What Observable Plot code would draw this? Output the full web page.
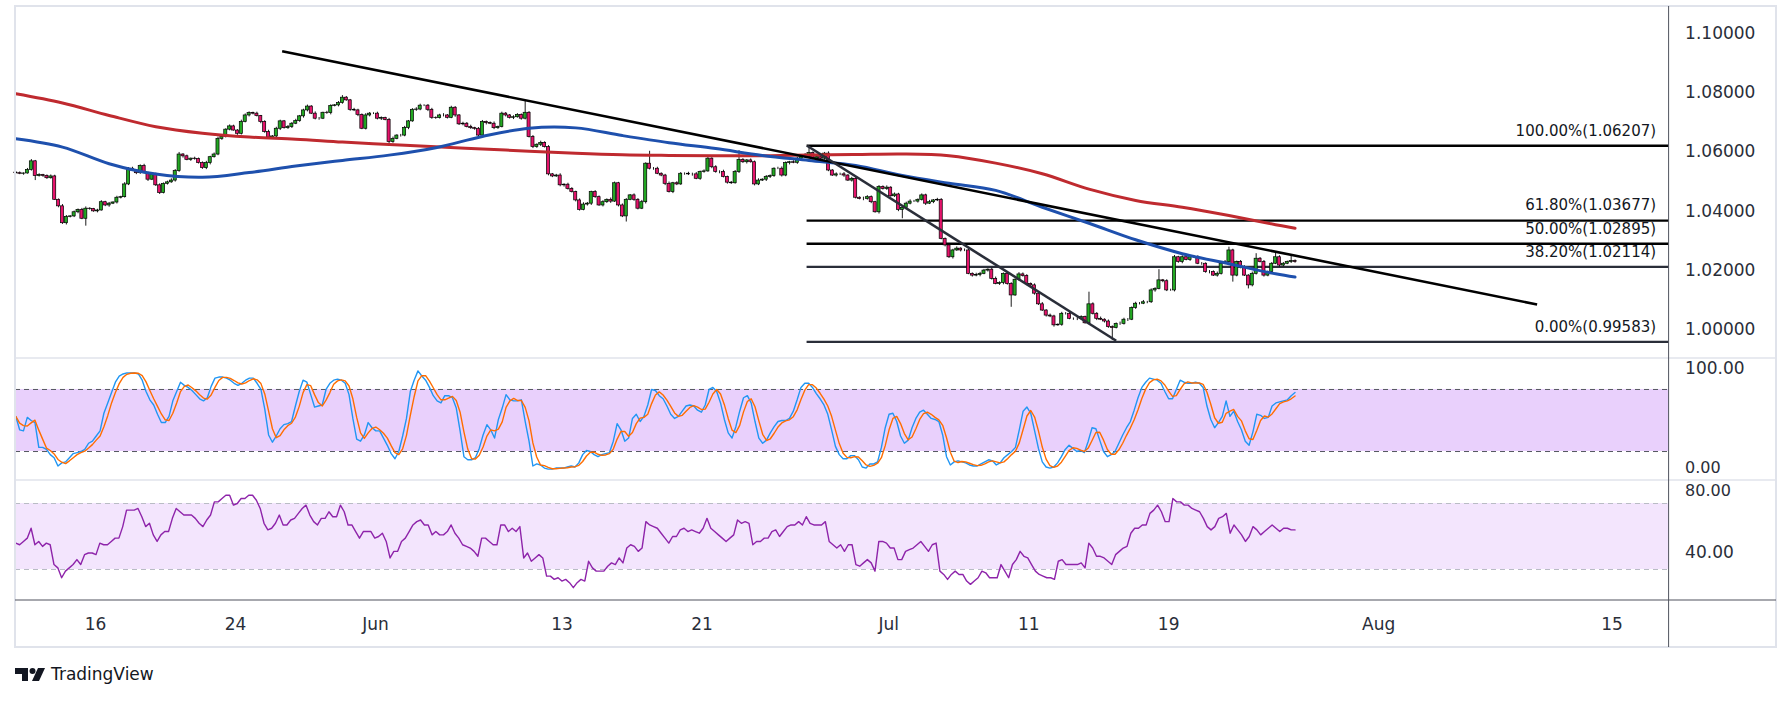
<!DOCTYPE html>
<html><head><meta charset="utf-8">
<script src="https://cdn.jsdelivr.net/npm/d3@7"></script>
<script src="https://cdn.jsdelivr.net/npm/@observablehq/plot@0.6"></script>
<style>
html,body{margin:0;padding:0;background:#fff;}
#wrap{position:relative;width:1791px;height:701px;overflow:hidden;background:#fff;font-family:"DejaVu Sans",sans-serif;}
.pane{position:absolute;left:0;}
#frame{position:absolute;left:0;top:0;pointer-events:none;}
#logo{position:absolute;left:15px;top:664px;display:flex;align-items:center;gap:6px;color:#131722;font:17px "DejaVu Sans",sans-serif;}
</style></head><body>
<div id="wrap">
<div id="price" class="pane" style="top:6px"></div>
<div id="stoch" class="pane" style="top:358px"></div>
<div id="rsi" class="pane" style="top:480px"></div>
<svg id="frame" width="1791" height="701">
<rect x="15" y="6" width="1761" height="641" fill="none" stroke="#e0e3eb" stroke-width="2"/>
<line x1="15" x2="1776" y1="358" y2="358" stroke="#e0e3eb" stroke-width="1.5"/>
<line x1="15" x2="1776" y1="480" y2="480" stroke="#e0e3eb" stroke-width="1.5"/>
<line x1="15" x2="1776" y1="600" y2="600" stroke="#50535e" stroke-width="1.2"/>
<line x1="1668.6" x2="1668.6" y1="6" y2="647" stroke="#50535e" stroke-width="1"/>
</svg>
<div id="logo"><svg width="30" height="15" viewBox="0 0 30 15"><path d="M0 1h13v13h-6v-7H0z" fill="#131722"/><circle cx="17.5" cy="4" r="3" fill="#131722"/><path d="M23 1h7l-6 13h-7z" fill="#131722"/></svg><span>TradingView</span></div>
</div>
<script>
// ---------------- DATA ----------------
const firstBarTime = "2022-05-10T14:00";
const firstOpenPips = 10530;
// 4H closes in pips (1/10000)
const closesA = [10528,10526,10527,10539,10568,10518,10522,10519,10511,10517,
10438,10416,10359,10380,10382,10396,10404,10374,10408,10407,
10399,10402,10430,10419,10425,10429,10445,10447,10490,10543,
10537,10528,10552,10528,10506,10524,10487,10461,10492,10497,
10503,10535,10591,10585,10573,10577,10576,10562,10545,10562,
10582,10591,10644,10650,10675,10686,10672,10661,10701,10723,
10731,10729,10721,10701,10667,10648,10652,10678,10703,10680,
10684,10695,10704,10720,10740,10753,10729,10712,10712,10732,
10731,10755,10757,10765,10783,10774,10742,10740,10725,10678,
10723,10729,10729,10712,10714,10708,10633,10644,10655,10655,
10681,10703,10742,10743,10756,10756,10742,10715,10714,10723,
10723,10715,10749,10723,10693,10695,10684,10680,10678,10655,
10701,10697,10695,10680,10684,10729,10723,10715,10717,10725,
10712,10732,10650,10616,10624,10630,10616,10524,10517,10520,
10487,10489,10475,10464,10436,10404,10422,10425,10464,10447,
10419];
const closesB = [10430,10438,10432,10494,10419,10382,10438,10453,10438,10408,
10430,10560,10543,10543,10526,10520,10492,10464,10494,10490,
10526,10526,10524,10524,10509,10532,10534,10577,10548,10532,
10532,10515,10496,10494,10532,10573,10565,10571,10565,10490,
10503,10506,10515,10518,10543,10543,10520,10562,10565,10563,
10577,10588,10582,10596,10577,10582,10577,10594,10537,10520,
10524,10524,10520,10503,10509,10445,10441,10441,10447,10430,
10396,10481,10475,10479,10450,10456,10404,10411,10425,10432,
10432,10438,10453,10425,10430,10436,10438,10306,10284,10244,
10267,10273,10267,10267,10188,10182,10184,10188,10199,10202,
10171,10154,10157,10188,10154,10115,10168,10186,10181,10154,
10149,10121,10085,10064,10047,10044,10014,10016,10053,10053,
10036,10036,10036,10042,10021,10085,10053,10036,10033,10027,
10008,10005,10019,10019,10033,10033,10073,10087,10087,10092,
10092,10132,10137,10166,10163,10132,10132,10244,10228,10244,
10235,10244,10244];
const closesC = [10222,10222,10194,10194,10182,10188,10222,10228,10267,10182,
10228,10211,10182,10149,10188,10239,10228,10182,10194,10222,
10244,10216,10222,10228,10231,10228];
// wick lengths in pips above / below the body
const wickUp = [3,4,2,5,6,3,4,2,3,5,4,3,6,5,2,4,3,5,6,3,2,4,5,3,4,2,5,3,6,4,
5,3,4,6,3,2,4,5,3,4,6,5,7,3,4,2,5,3,4,6,3,5,6,4,3,5,4,3,6,5,
4,3,5,2,4,6,3,5,4,3,5,4,6,3,4,5,3,6,4,2,5,4,3,5,7,4,3,5,4,3,
6,4,3,5,4,3,5,6,3,4,5,3,4,6,5,3,4,5,3,4,6,3,5,4,3,5,4,6,3,4,
5,3,4,6,3,5,4,3,5,4,3,42,4,5,3,6,4,5,3,4,6,3,5,4,3,5,6,4,3,5,
4,5,3,6,4,3,5,4,3,5,4,6,3,42,4,5,3,4,6,3,5,4,3,5,4,6,3,5,4,3,
5,4,6,3,4,5,31,4,3,5,4,6,3,5,4,3,5,6,4,3,5,4,3,6,24,4,5,3,4,6,
3,5,4,6,3,5,4,3,6,5,4,3,5,4,6,3,5,4,3,5,6,4,3,5,4,6,3,5,4,3,
5,4,6,3,5,4,3,6,5,4,3,5,6,4,3,5,4,3,6,5,4,3,5,4,6,3,5,4,3,5,
4,6,3,5,4,3,41,5,4,6,3,5,4,3,6,5,4,3,5,4,6,3,5,4,36,3,5,4,6,3,
5,4,3,6,5,4,3,5,4,6,3,5,11,4,3,5,4,3,6,17,4,5,3,4,14,5,4,3,19,4];
const wickDn = [4,3,5,2,4,15,3,5,4,3,2,5,4,6,3,4,5,3,25,4,3,5,2,4,6,3,5,4,3,4,
3,5,4,2,6,3,4,5,3,4,3,5,4,6,3,5,4,3,4,5,6,3,4,5,3,4,2,5,4,3,
5,4,3,6,4,5,3,4,6,3,4,5,3,4,6,5,3,4,5,3,4,6,3,5,4,3,5,4,6,3,
4,5,3,4,6,3,5,4,3,5,4,6,3,5,4,3,6,5,4,3,5,4,3,6,4,5,3,4,5,3,
4,6,3,5,4,3,5,4,6,3,5,4,3,5,4,6,3,5,4,3,5,6,4,3,5,4,3,5,6,4,
3,5,4,6,3,5,4,19,3,5,4,3,6,4,5,3,4,6,3,5,4,3,5,4,6,3,5,4,3,5,
4,6,3,5,4,3,5,4,6,3,5,4,3,6,5,4,3,5,4,6,3,5,4,3,5,4,6,3,5,4,
3,5,4,6,3,5,4,3,6,4,5,3,6,4,5,3,4,6,30,5,4,3,5,4,6,3,5,4,3,5,
4,6,3,5,4,3,5,4,6,3,5,4,3,5,6,4,40,3,5,4,6,3,5,4,3,5,4,6,3,5,
4,3,5,6,4,3,5,4,6,3,5,4,42,3,5,4,6,3,5,4,3,5,4,6,3,5,4,3,5,4,
6,3,5,4,3,5,4,6,3,5,4,3,5,22,4,6,3,12,5,4,3,5,4,6,3,5,4,3,5,4];

// moving averages (pips), sampled at bar numbers
const maBars = [0,12,24,36,48,60,72,84,96,108,120,132,144,156,168,180,192,204,216,228,240,252,264,276,288,300,312,324,329];
const maRed = [10796,10765,10723,10685,10663,10650,10643,10633,10625,10617,10610,10602,10595,10590,10588,10587,10587,10589,10591,10593,10587,10562,10526,10474,10436,10413,10385,10354,10342];
const maBlue = [10644,10616,10560,10525,10514,10530,10552,10571,10589,10614,10652,10680,10681,10655,10631,10611,10588,10571,10554,10520,10494,10470,10413,10359,10303,10256,10222,10188,10177];

// Fibonacci retracement
const fibPct = [100, 61.8, 50, 38.2, 0];
const fibPrice = [1.06207, 1.03677, 1.02895, 1.02114, 0.99583];
const fibStartTime = "2022-06-27T12:00";

// trend lines
const trendStart = ["2022-05-26T00:00", "2022-06-27T12:00"];
const trendStartPrice = [1.0940, 1.06207];
const trendEnd = ["2022-08-09T19:00", "2022-07-14T18:00"];
const trendEndPrice = [1.00845, 0.9962];

// Stochastic %K
const stochK = [54,41,40,53,50,48,24,24,22,17,14,6,9,10,14,18,19,20,22,28,
30,35,40,57,67,77,87,93,95,96,96,96,95,89,78,70,65,56,48,48,
54,69,78,87,84,82,79,75,71,69,72,83,91,92,92,91,89,86,84,86,
89,91,91,86,80,61,36,29,35,42,46,47,49,64,78,89,87,75,63,64,
65,80,86,89,90,89,86,75,52,32,30,36,48,43,40,40,33,26,18,13,
20,35,52,78,89,98,93,89,82,74,69,67,74,74,72,62,40,15,12,12,
14,23,36,46,41,33,51,62,75,70,69,69,70,49,30,6,8,7,4,3,
3,4,4,4,5,6,5,9,17,21,20,17,15,
17,18,19,30,47,41,30,33,52,56,49,54,65,80,79,74,71,64,56,52,
54,59,64,65,64,60,58,65,80,82,78,67,51,38,33,44,59,72,74,67,
49,33,28,31,38,44,49,50,50,52,59,70,82,86,86,82,76,71,65,56,
41,25,17,13,13,16,16,12,5,4,8,8,10,24,43,56,57,49,35,28,
31,43,52,58,60,56,52,51,49,36,15,7,10,11,10,9,7,6,6,8,
10,12,11,7,9,14,17,20,24,41,59,63,57,40,23,10,5,4,5,9,
15,22,26,23,20,21,19,30,43,42,31,20,15,17,20,28,36,43,49,60,
72,82,87,91,90,89,86,78,71,71,80,89,87,86,86,87,
86,82,64,51,43,48,54,69,54,59,49,41,30,26,39,56,55,52,53,64,67,68,69,70,74,77];
const stochBand = [20, 80];
const stochTicks = [0, 100];

// RSI
const rsi = [46,45,47,49,55,45,47,44,46,45,33,31,25,29,31,33,36,33,39,40,
40,39,46,45,45,47,49,49,56,66,66,66,67,62,56,58,51,47,51,53,
53,61,67,65,63,63,63,61,58,56,60,63,71,71,73,75,75,69,70,73,
73,75,75,72,67,58,54,55,58,63,57,57,60,61,64,67,69,63,59,57,
61,61,65,62,62,69,65,57,57,53,49,53,53,53,49,50,52,47,37,41,
41,47,49,53,57,59,60,57,57,51,53,51,51,53,57,52,49,45,44,43,
41,38,49,49,47,45,45,57,57,53,55,53,56,37,40,35,37,39,37,26,
26,24,25,23,24,22,19,22,24,23,35,31,29,29,
29,32,34,33,37,34,43,45,44,41,43,59,57,56,55,52,49,46,50,50,
54,55,53,54,53,52,55,61,55,53,51,49,47,49,51,60,58,59,58,45,
47,47,49,49,53,54,50,53,56,57,57,59,57,62,58,57,57,57,59,47,
45,43,45,41,45,45,33,32,34,36,34,29,47,47,46,43,43,36,36,41,
42,43,45,47,44,41,45,46,29,27,24,27,29,27,27,23,21,23,25,29,
28,25,25,25,33,29,25,33,36,41,38,37,33,29,27,26,25,25,24,35,
36,33,33,33,33,34,31,46,43,38,38,37,35,33,39,41,43,44,52,55,
55,57,57,64,66,69,65,59,59,73,71,71,69,69,67,66,
65,61,56,54,56,61,62,64,52,57,54,51,47,50,56,54,51,53,55,57,55,53,55,55,54,54];
const rsiBand = [30, 70];
const rsiTicks = [40, 80];

// axis labels
const priceTicks = [1.00, 1.02, 1.04, 1.06, 1.08, 1.10];
const dateTickTimes = ["2022-05-16T00:00","2022-05-24T00:00","2022-06-01T00:00","2022-06-13T00:00","2022-06-21T00:00","2022-07-01T00:00","2022-07-11T00:00","2022-07-19T00:00","2022-08-01T00:00","2022-08-15T00:00"];
const dateTickLabels = ["16","24","Jun","13","21","Jul","11","19","Aug","15"];

// ---------------- BUILD ----------------
const BASE = Date.UTC(2022, 4, 16); // Monday
function tradingDay(s) {
  const d = new Date(s + "Z");
  const day0 = Date.UTC(d.getUTCFullYear(), d.getUTCMonth(), d.getUTCDate());
  const frac = (d.getTime() - day0) / 864e5;
  const cal = Math.round((day0 - BASE) / 864e5);
  const w = Math.floor(cal / 7), r = cal - 7 * w;
  return 5 * w + Math.min(r, 5) + frac;
}
const t0 = tradingDay(firstBarTime);
const closes = [...closesA, ...closesB, ...closesC].map(p => p / 10000);
const candles = closes.map((c, i) => {
  const o = i ? closes[i - 1] : firstOpenPips / 10000;
  return {t: t0 + i / 6, open: o, close: c,
    high: Math.max(o, c) + wickUp[i] / 10000, low: Math.min(o, c) - wickDn[i] / 10000};
});
const lastT = t0 + (closes.length - 1) / 6;
const spread = arr => arr.map((v, i) => ({t: t0 + i * (lastT - t0) / (arr.length - 1), v}));
const redPts = maBars.map((b, i) => ({t: t0 + b / 6, v: maRed[i] / 10000}));
const bluePts = maBars.map((b, i) => ({t: t0 + b / 6, v: maBlue[i] / 10000}));
const kPts = spread(stochK);
const stochD = stochK.map((v, i) => d3.mean(stochK.slice(Math.max(0, i - 2), i + 1)));
const dPts = spread(stochD);
const rsiPts = spread(rsi);
const fibs = fibPct.map((p, i) => ({pct: p, price: fibPrice[i]}));
const fibStart = tradingDay(fibStartTime);
const trends = trendStart.map((s, i) => ({t1: tradingDay(s), p1: trendStartPrice[i], t2: tradingDay(trendEnd[i]), p2: trendEndPrice[i]}));
const dateTicks = dateTickTimes.map(tradingDay);
const labelOf = new Map(dateTicks.map((t, i) => [t, dateTickLabels[i]]));

const W = 1791;
const xDomain = [-3.43, 67.45];
const common = {width: W, marginLeft: 15, marginRight: 122.4, marginTop: 0,
  style: {fontFamily: "DejaVu Sans, sans-serif", fontSize: "17px", color: "#2a2e39", background: "transparent", overflow: "visible"}};
const axisOpts = {anchor: "right", tickSize: 0, tickPadding: 16, label: null, fill: "#2a2e39", fontSize: 17};

const pricePlot = Plot.plot({
  ...common, height: 352, marginBottom: 0,
  x: {type: "linear", domain: xDomain, axis: null},
  y: {domain: [0.9902, 1.1091]},
  marks: [
    Plot.ruleY(fibs, {y: "price", x1: () => fibStart, x2: () => xDomain[1], stroke: d => d.pct >= 50 ? "#000000" : "#2a2e39", strokeWidth: 2.4}),
    Plot.text(fibs, {x: () => xDomain[1], y: "price", text: d => `${d.pct.toFixed(2)}%(${d.price.toFixed(5)})`, textAnchor: "end", dx: -13, dy: -15, fontSize: 15, fill: "#131722"}),
    Plot.ruleX(candles, {x: "t", y1: "low", y2: "high", stroke: "#000", strokeWidth: 0.9}),
    Plot.rect(candles, {x1: d => d.t - 0.066, x2: d => d.t + 0.066, y1: "open", y2: "close", fill: d => d.close >= d.open ? "#22a822" : "#e5136b", stroke: "#000", strokeWidth: 0.7}),
    Plot.line(redPts, {x: "t", y: "v", stroke: "#bf2a2f", strokeWidth: 3, curve: "catmull-rom"}),
    Plot.line(bluePts, {x: "t", y: "v", stroke: "#1e50ad", strokeWidth: 3, curve: "catmull-rom"}),
    Plot.link(trends, {x1: "t1", y1: "p1", x2: "t2", y2: "p2", stroke: d => d.p1 > 1.07 ? "#000000" : "#2a2e39", strokeWidth: 2.6}),
    Plot.axisY(priceTicks, {...axisOpts, tickFormat: d3.format(".5f")})
  ]
});
document.getElementById("price").append(pricePlot);

const stochPlot = Plot.plot({
  ...common, height: 122, marginBottom: 0,
  x: {type: "linear", domain: xDomain, axis: null},
  y: {domain: [-8.03, 109.96]},
  marks: [
    Plot.rect([stochBand], {x1: () => xDomain[0], x2: () => xDomain[1], y1: d => d[0], y2: d => d[1], fill: "#e9d0fc"}),
    Plot.ruleY(stochBand, {stroke: "#555861", strokeDasharray: "5,4", strokeWidth: 1}),
    Plot.line(kPts, {x: "t", y: "v", stroke: "#2196f3", strokeWidth: 1.4}),
    Plot.line(dPts, {x: "t", y: "v", stroke: "#ff6d00", strokeWidth: 1.4}),
    Plot.axisY(stochTicks.filter(v => v > 50), {...axisOpts, tickFormat: d3.format(".2f")}),
    Plot.axisY(stochTicks.filter(v => v < 50), {...axisOpts, fontSize: 16, dy: -4, tickFormat: d3.format(".2f")})
  ]
});
document.getElementById("stoch").append(stochPlot);

const rsiPlot = Plot.plot({
  ...common, height: 167, marginBottom: 47,
  x: {type: "linear", domain: xDomain},
  y: {domain: [11.21, 83.94]},
  marks: [
    Plot.rect([rsiBand], {x1: () => xDomain[0], x2: () => xDomain[1], y1: d => d[0], y2: d => d[1], fill: "#f3e5fd"}),
    Plot.ruleY(rsiBand, {stroke: "#b9bcc5", strokeDasharray: "5,4", strokeWidth: 1}),
    Plot.line(rsiPts, {x: "t", y: "v", stroke: "#8e24aa", strokeWidth: 1.4}),
    Plot.axisY(rsiTicks.filter(v => v > 60), {...axisOpts, fontSize: 16, dy: 4, tickFormat: d3.format(".2f")}),
    Plot.axisY(rsiTicks.filter(v => v < 60), {...axisOpts, tickFormat: d3.format(".2f")}),
    Plot.axisX(dateTicks, {anchor: "bottom", tickSize: 0, tickPadding: 17, label: null, fill: "#2a2e39", fontSize: 17, tickFormat: t => labelOf.get(t)})
  ]
});
document.getElementById("rsi").append(rsiPlot);
</script>
</body></html>
